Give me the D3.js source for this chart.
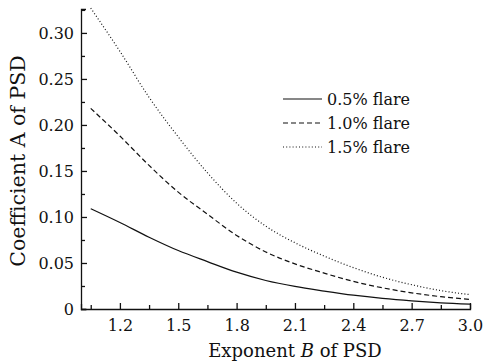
<!DOCTYPE html>
<html>
<head>
<meta charset="utf-8">
<script src="https://cdn.jsdelivr.net/npm/d3@7"></script>
<style>
  body { margin: 0; background: #fff; }
  svg { display: block; }
  text { font-family: "DejaVu Serif", "Liberation Serif", serif; fill: #111; }
</style>
</head>
<body>
<svg id="chart" width="487" height="363"></svg>
<script>

// exponent B of the PSD (x values)
let exponents = [1.05, 1.2, 1.35, 1.5, 1.65, 1.8, 1.95, 2.1, 2.25, 2.4, 2.55, 2.7, 2.85, 3.0];

// coefficient A for each flare level
let flare05 = [0.109, 0.094, 0.078, 0.0635, 0.0515, 0.040, 0.031, 0.0245, 0.0195, 0.0150, 0.0115, 0.0088, 0.0067, 0.0052];
let flare10 = [0.218, 0.188, 0.156, 0.127, 0.103, 0.080, 0.062, 0.049, 0.039, 0.030, 0.023, 0.0176, 0.0134, 0.0104];
let flare15 = [0.327, 0.280, 0.230, 0.187, 0.148, 0.115, 0.090, 0.072, 0.0575, 0.045, 0.0345, 0.0264, 0.020, 0.0156];

let seriesNames = ['0.5% flare', '1.0% flare', '1.5% flare'];

let xTicks = [1.2, 1.5, 1.8, 2.1, 2.4, 2.7, 3.0];
let xMinorTicks = [1.05, 1.35, 1.65, 1.95, 2.25, 2.55, 2.85];
let yTicks = [0, 0.05, 0.10, 0.15, 0.20, 0.25, 0.30];
let yMinorTicks = [0.025, 0.075, 0.125, 0.175, 0.225, 0.275, 0.325];

let svg = d3.select('#chart');

let x = d3.scaleLinear().domain([1.0, 3.0]).range([81, 470]),
    y = d3.scaleLinear().domain([0, 0.326]).range([309, 9]);

let dashes = [null, '5,3', '1,2.2'];

let series = [flare05, flare10, flare15].map(function (vals, i) {
    return {
        name: seriesNames[i],
        dash: dashes[i],
        points: exponents.map(function (b, j) { return [b, vals[j]]; })
    };
});

// minor ticks first, then the labelled axes on top
svg.append('g')
    .attr('transform', 'translate(0,' + y(0) + ')')
    .call(d3.axisBottom(x).tickValues(xMinorTicks).tickSize(-4).tickFormat(''))
    .call(function (g) { g.select('.domain').remove(); });

svg.append('g')
    .attr('transform', 'translate(' + x(1.0) + ',0)')
    .call(d3.axisLeft(y).tickValues(yMinorTicks).tickSize(-4).tickFormat(''))
    .call(function (g) { g.select('.domain').remove(); });

let xAxis = svg.append('g')
    .attr('transform', 'translate(0,' + y(0) + ')')
    .call(d3.axisBottom(x)
        .tickValues(xTicks)
        .tickSizeInner(-6)
        .tickSizeOuter(-5)
        .tickPadding(11)
        .tickFormat(d3.format('.1f')));

let yAxis = svg.append('g')
    .attr('transform', 'translate(' + x(1.0) + ',0)')
    .call(d3.axisLeft(y)
        .tickValues(yTicks)
        .tickSizeInner(-6)
        .tickSizeOuter(-5)
        .tickPadding(7)
        .tickFormat(function (d) { return d === 0 ? '0' : d3.format('.2f')(d); }));

svg.selectAll('.tick line, .domain')
    .attr('stroke', '#111')
    .attr('stroke-width', 1.3);

[xAxis, yAxis].forEach(function (g) {
    g.selectAll('text')
        .attr('font-family', '"DejaVu Serif", serif')
        .attr('font-size', 16)
        .attr('fill', '#111');
});

// the curves
let line = d3.line()
    .x(function (d) { return x(d[0]); })
    .y(function (d) { return y(d[1]); })
    .curve(d3.curveMonotoneX);

svg.append('g')
    .selectAll('path')
    .data(series)
    .join('path')
    .attr('d', function (d) { return line(d.points); })
    .attr('fill', 'none')
    .attr('stroke', '#111')
    .attr('stroke-width', 1.2)
    .attr('stroke-dasharray', function (d) { return d.dash; });

// legend
let legend = svg.append('g')
    .attr('transform', 'translate(283,99)');

let row = legend.selectAll('g')
    .data(series)
    .join('g')
    .attr('transform', function (d, i) { return 'translate(0,' + (i * 24) + ')'; });

row.append('line')
    .attr('x1', 0)
    .attr('x2', 39)
    .attr('stroke', '#111')
    .attr('stroke-width', 1.2)
    .attr('stroke-dasharray', function (d) { return d.dash; });

row.append('text')
    .attr('x', 44)
    .attr('dy', '0.35em')
    .attr('font-size', 16)
    .text(function (d) { return d.name; });

// axis titles
let xTitle = svg.append('text')
    .attr('x', 295)
    .attr('y', 357)
    .attr('text-anchor', 'middle')
    .attr('font-size', 18);
xTitle.append('tspan').text('Exponent ');
xTitle.append('tspan').attr('font-style', 'italic').text('B');
xTitle.append('tspan').text(' of PSD');

svg.append('text')
    .attr('transform', 'translate(25,161) rotate(-90)')
    .attr('text-anchor', 'middle')
    .attr('font-size', 20.5)
    .text('Coefficient A of PSD');

</script>
</body>
</html>
